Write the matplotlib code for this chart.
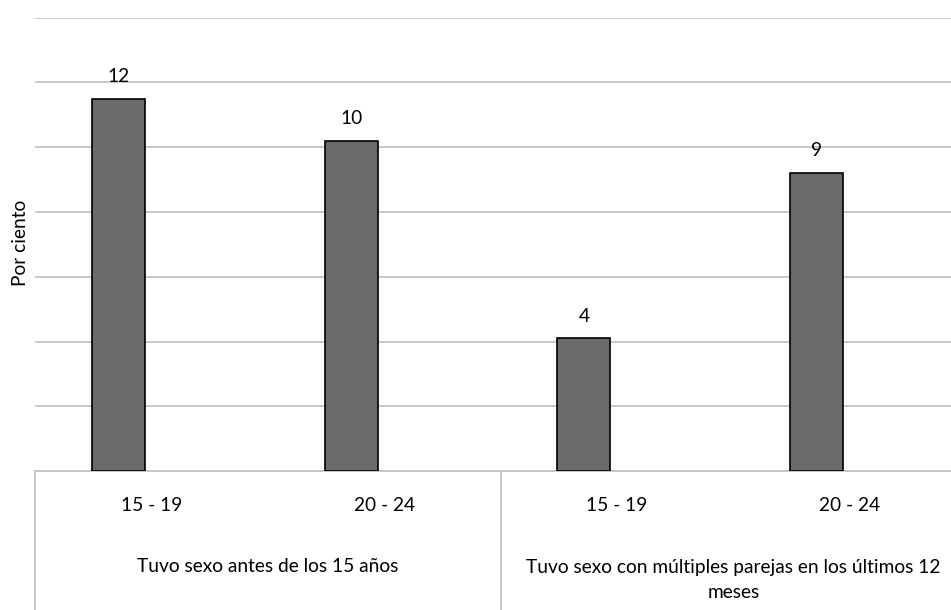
import matplotlib
matplotlib.use("Agg")
import matplotlib.pyplot as plt

groups = ["Tuvo sexo antes de los 15 años",
          "Tuvo sexo con múltiples parejas en los últimos 12\nmeses"]
age_labels = ["15 - 19", "20 - 24", "15 - 19", "20 - 24"]
values = [11.5, 10.2, 4.1, 9.2]
value_labels = ["12", "10", "4", "9"]
y_label = "Por ciento"

plt.rcParams['font.family'] = ['Lato', 'DejaVu Sans']
FS = 13.8

W, H = 951, 610
fig = plt.figure(figsize=(W / 100, H / 100), dpi=100)
left_px, right_px = 35.3, 966.0
top_px, base_px = 17.5, 471.3
ax = fig.add_axes([left_px / W, 1 - base_px / H,
                   (right_px - left_px) / W, (base_px - top_px) / H])


def ypx(py):
    return -(py - base_px) / (base_px - top_px)


n = len(values)
xs = list(range(n))
offset = -0.142
bw = 0.228
bars = ax.bar([x + offset for x in xs], values, width=bw, color="#6b6b6b",
              edgecolor="black", linewidth=1.2, zorder=3)
ax.set_xlim(-0.5, n - 0.5)
ax.set_ylim(0, 14)
ax.set_yticks(range(0, 15, 2))
ax.yaxis.grid(True, color="#c4c4c4", linewidth=1.3, zorder=0)
ax.set_axisbelow(True)
ax.tick_params(axis='both', length=0, labelleft=False, labelbottom=False)
for s in ["top", "right", "left"]:
    ax.spines[s].set_visible(False)
ax.spines["bottom"].set_color("#c4c4c4")
ax.spines["bottom"].set_linewidth(1.3)

for b, lab in zip(bars, value_labels):
    ax.annotate(lab, (b.get_x() + b.get_width() / 2, b.get_height()),
                xytext=(0, 10), textcoords="offset points",
                ha="center", va="bottom", fontsize=FS)

# category table below axis
trans = ax.get_xaxis_transform()
for x, lab in zip(xs, age_labels):
    ax.text(x, ypx(505.7), lab, transform=trans, ha="center", va="center",
            fontsize=FS, clip_on=False)
for xv in [-0.5, 1.5]:
    ax.plot([xv, xv], [0, ypx(H)], transform=trans, color="#c4c4c4",
            linewidth=1.3, clip_on=False)
ax.text(0.5, ypx(566.7), groups[0], transform=trans, ha="center", va="center",
        fontsize=FS, clip_on=False)
ax.text(2.5, ypx(580), groups[1], transform=trans, ha="center", va="center",
        fontsize=FS, clip_on=False, linespacing=1.5)

fig.text(20 / W, 1 - 243 / H, y_label, rotation=90, ha="center", va="center",
         fontsize=FS)

fig.savefig("out.png", dpi=100)
